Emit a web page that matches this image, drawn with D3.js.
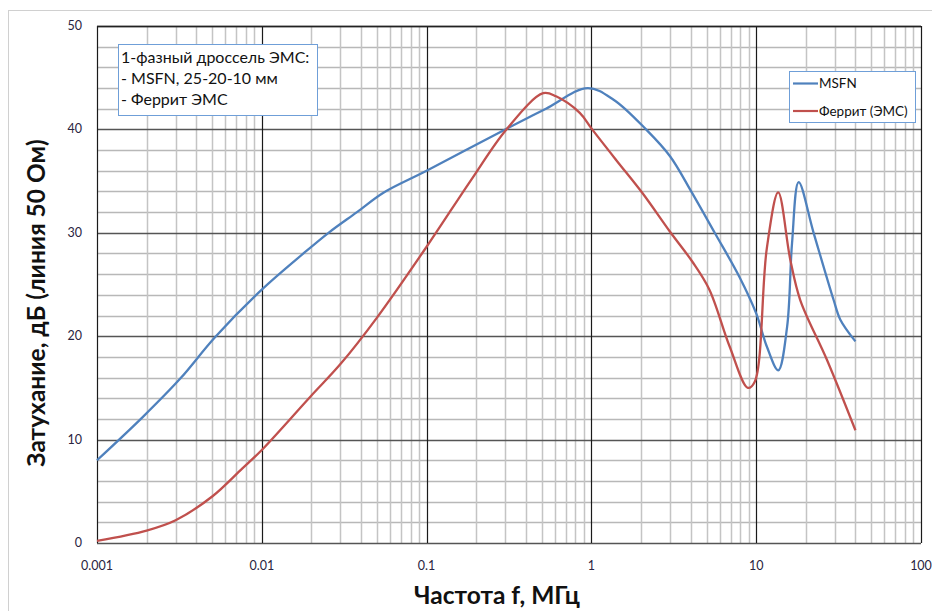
<html>
<head>
<meta charset="utf-8">
<title>Затухание</title>
<style>
body { margin: 0; background: #fff; }
svg { font-family: Lato, "Open Sans", sans-serif; }
.tick-label { font-size: 12.5px; fill: #2a2440; }
.axis-title { font-size: 24.5px; font-weight: bold; fill: #111; }
.note { font-size: 16px; fill: #111; }
.legend-text { font-size: 13.5px; fill: #111; }
</style>
</head>
<body>
<svg id="chart" width="932" height="611"></svg>
<script src="https://cdn.jsdelivr.net/npm/d3@7"></script>
<script>
// frequency in MHz, attenuation in dB
const msfnFreq = [0.001, 0.0019, 0.0032, 0.0052, 0.01, 0.0179, 0.0254, 0.0378, 0.055, 0.1, 0.3, 0.53, 0.95, 1.37, 2.16, 3, 4, 5.6, 7.9, 10, 11.6, 13.6, 15.4, 16.5, 18.1, 22.3, 29.5, 32.4, 40];
const msfnDb   = [8, 12.2, 15.9, 19.9, 24.5, 28, 30, 32, 33.9, 36, 40, 42, 44, 42.85, 39.95, 37.4, 34.1, 30, 25.75, 22.2, 19, 16.7, 20.9, 29, 34.9, 30, 23.5, 21.6, 19.5];

const ferritFreq = [0.001, 0.002, 0.003, 0.005, 0.0076, 0.01, 0.0197, 0.03, 0.05, 0.1, 0.186, 0.305, 0.51, 0.61, 0.85, 1, 1.42, 2.05, 3, 4.1, 5.2, 6.9, 8.9, 9.8, 11.6, 13.6, 16.1, 18.5, 26.9, 40];
const ferritDb   = [0.2, 1.2, 2.2, 4.5, 7.2, 9, 14.15, 17.3, 21.8, 28.65, 35.1, 40, 43.5, 43.2, 41.6, 40.1, 37, 33.8, 30.1, 27.2, 24.5, 19, 15, 15.6, 28.5, 33.9, 27.4, 23.5, 17.7, 10.9];

const xTicks = [0.001, 0.01, 0.1, 1, 10, 100];
const xTickLabels = ['0.001', '0.01', '0.1', '1', '10', '100'];
const yTicks = [0, 10, 20, 30, 40, 50];

const noteLines = ['1-фазный дроссель ЭМС:', '- MSFN, 25-20-10 мм', '- Феррит ЭМС'];
const seriesNames = ['MSFN', 'Феррит (ЭМС)'];
const seriesColors = ['#4f81bd', '#c0504d'];

const svg = d3.select('#chart');
const plotLeft = 97, plotRight = 921, plotTop = 26, plotBottom = 543;

const x = d3.scaleLog().domain([0.001, 100]).range([plotLeft, plotRight]);
const y = d3.scaleLinear().domain([0, 50]).range([plotBottom, plotTop]);

// outer chart border
svg.append('rect')
  .attr('x', 8.5).attr('y', 10.5)
  .attr('width', 940).attr('height', 640)
  .attr('fill', 'none').attr('stroke', '#d0d0d0');

const grid = svg.append('g');

// minor horizontal lines
for (let v = 0; v <= 50; v += 2) {
  if (v % 10 === 0) continue;
  grid.append('line')
    .attr('x1', plotLeft).attr('x2', plotRight)
    .attr('y1', Math.round(y(v)) + .5).attr('y2', Math.round(y(v)) + .5)
    .attr('stroke', '#b8b8b8').attr('stroke-width', 1.5);
}
// minor vertical lines
for (let d = 0.001; d < 100; d *= 10) {
  for (let k = 2; k <= 9; k++) {
    const xx = Math.round(x(d * k)) + .5;
    grid.append('line')
      .attr('x1', xx).attr('x2', xx)
      .attr('y1', plotTop).attr('y2', plotBottom)
      .attr('stroke', '#c4c4c4').attr('stroke-width', 1.5);
  }
}
// major horizontal lines
yTicks.forEach(v => {
  grid.append('line')
    .attr('x1', plotLeft).attr('x2', plotRight)
    .attr('y1', Math.round(y(v)) + .5).attr('y2', Math.round(y(v)) + .5)
    .attr('stroke', '#555').attr('stroke-width', 1.5);
});
// decade lines
xTicks.forEach(v => {
  const xx = Math.round(x(v)) + .5;
  grid.append('line')
    .attr('x1', xx).attr('x2', xx)
    .attr('y1', plotTop).attr('y2', plotBottom)
    .attr('stroke', '#1a1a1a').attr('stroke-width', 1.2);
});
grid.append('line')
  .attr('x1', plotLeft).attr('x2', plotRight)
  .attr('y1', plotTop + .5).attr('y2', plotTop + .5)
  .attr('stroke', '#222').attr('stroke-width', 1.5);

// tick labels
svg.append('g').selectAll('text')
  .data(yTicks).join('text')
  .attr('class', 'tick-label')
  .attr('x', 82).attr('y', d => y(d) + 4)
  .attr('text-anchor', 'end')
  .text(d => d);

svg.append('g').selectAll('text')
  .data(xTicks).join('text')
  .attr('class', 'tick-label')
  .attr('x', d => x(d)).attr('y', 570)
  .attr('text-anchor', 'middle')
  .text((d, i) => xTickLabels[i]);

// axis titles
svg.append('text')
  .attr('class', 'axis-title')
  .attr('x', 497).attr('y', 604)
  .attr('text-anchor', 'middle')
  .text('Частота f, МГц');

svg.append('text')
  .attr('class', 'axis-title')
  .attr('transform', 'translate(45,303) rotate(-90)')
  .attr('text-anchor', 'middle')
  .text('Затухание, дБ (линия 50 Ом)');

// series
const line = d3.line()
  .x(d => x(d[0]))
  .y(d => y(d[1]))
  .curve(d3.curveCatmullRom.alpha(0.5));

const series = [
  d3.zip(msfnFreq, msfnDb),
  d3.zip(ferritFreq, ferritDb)
];

series.forEach((s, i) => {
  svg.append('path')
    .datum(s)
    .attr('d', line)
    .attr('fill', 'none')
    .attr('stroke', seriesColors[i])
    .attr('stroke-width', 2.3)
    .attr('stroke-linejoin', 'round');
});

// annotation box
const note = svg.append('g');
note.append('rect')
  .attr('x', 118.5).attr('y', 44.5)
  .attr('width', 199).attr('height', 71)
  .attr('fill', '#fff').attr('stroke', '#6f9fd8').attr('stroke-width', 1);
note.selectAll('text')
  .data(noteLines).join('text')
  .attr('class', 'note')
  .attr('x', 121).attr('y', (d, i) => 63 + i * 21)
  .text(d => d);

// legend
const legend = svg.append('g');
legend.append('rect')
  .attr('x', 789.5).attr('y', 71.5)
  .attr('width', 126).attr('height', 51)
  .attr('fill', '#fff').attr('stroke', '#6f9fd8').attr('stroke-width', 1);
seriesNames.forEach((name, i) => {
  const ly = 83.5 + i * 27.5;
  legend.append('line')
    .attr('x1', 793).attr('x2', 818)
    .attr('y1', ly).attr('y2', ly)
    .attr('stroke', seriesColors[i]).attr('stroke-width', 2.2);
  legend.append('text')
    .attr('class', 'legend-text')
    .attr('x', 819).attr('y', ly + 4.5)
    .text(name);
});
</script>
</body>
</html>
